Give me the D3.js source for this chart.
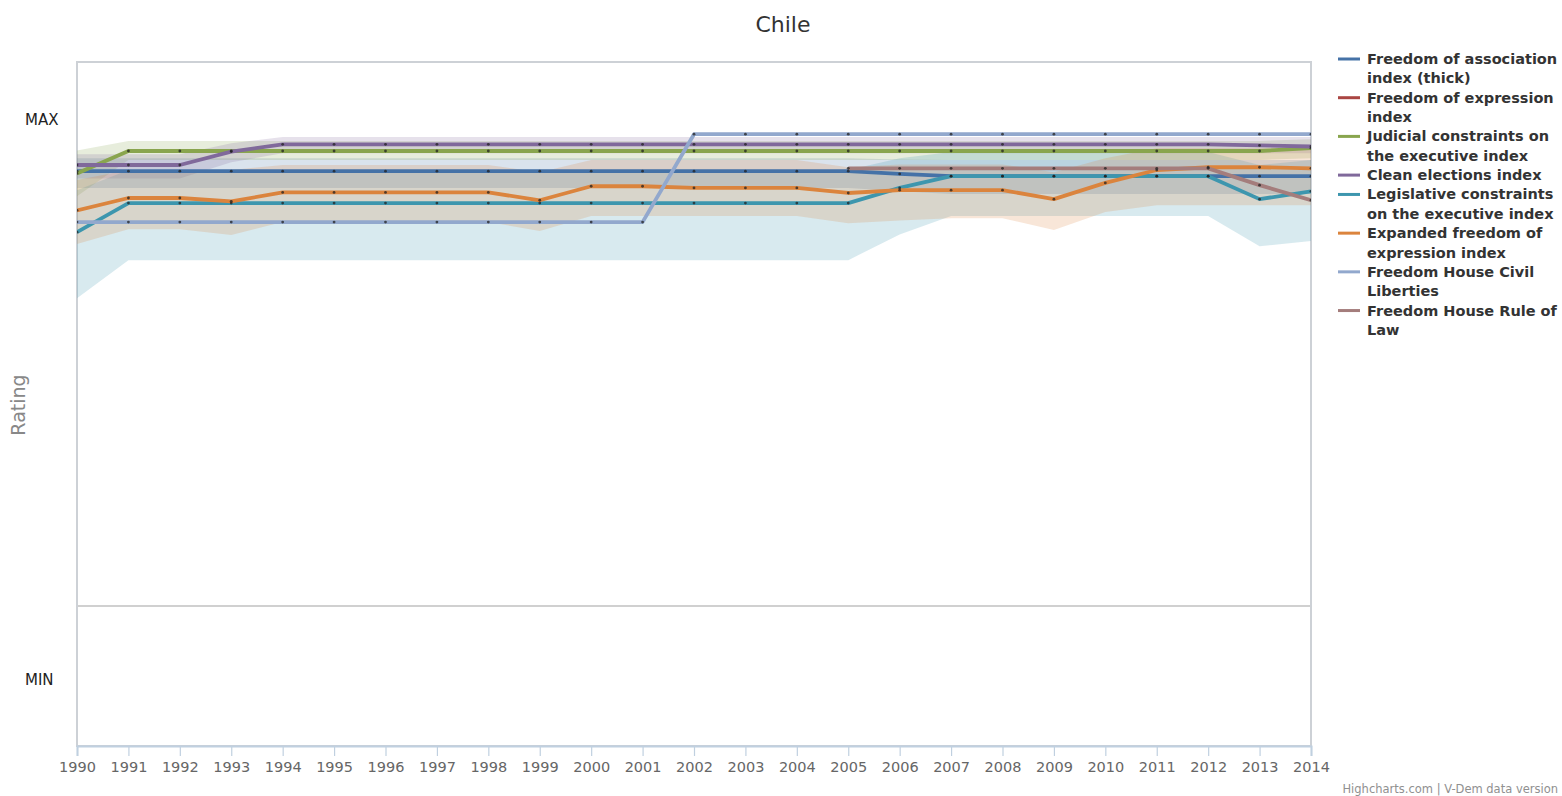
<!DOCTYPE html>
<html>
<head>
<meta charset="utf-8">
<script src="https://cdn.jsdelivr.net/npm/d3@7/dist/d3.min.js"></script>
<style>
  html, body { margin: 0; padding: 0; background: #fff; }
  svg { display: block; font-family: "DejaVu Sans", Verdana, sans-serif; }
</style>
</head>
<body>
<svg id="chart" width="1562" height="796"></svg>
<script>
// Years on the x axis
const years = [1990, 1991, 1992, 1993, 1994, 1995, 1996, 1997, 1998, 1999, 2000, 2001, 2002,
               2003, 2004, 2005, 2006, 2007, 2008, 2009, 2010, 2011, 2012, 2013, 2014];

// Normalised ratings (MIN = 0, MAX = 1)
const association = [0.909, 0.909, 0.909, 0.909, 0.909, 0.909, 0.909, 0.909, 0.909, 0.909, 0.909, 0.909, 0.909,
                     0.909, 0.909, 0.909, 0.904, 0.900, 0.900, 0.900, 0.900, 0.900, 0.900, 0.900, 0.900];
const expression = [null, null, null, null, null, null, null, null, null, null, null, null, null,
                    null, null, null, null, null, null, null, null, null, null, null, null];
const judicial = [0.905, 0.945, 0.945, 0.945, 0.945, 0.945, 0.945, 0.945, 0.945, 0.945, 0.945, 0.945, 0.945,
                  0.945, 0.945, 0.945, 0.945, 0.945, 0.945, 0.945, 0.945, 0.945, 0.945, 0.945, 0.950];
const cleanElections = [0.920, 0.920, 0.920, 0.944, 0.957, 0.957, 0.957, 0.957, 0.957, 0.957, 0.957, 0.957, 0.957,
                        0.957, 0.957, 0.957, 0.957, 0.957, 0.957, 0.957, 0.957, 0.957, 0.957, 0.955, 0.953];
const legislative = [0.800, 0.852, 0.852, 0.852, 0.852, 0.852, 0.852, 0.852, 0.852, 0.852, 0.852, 0.852, 0.852,
                     0.852, 0.852, 0.852, 0.879, 0.900, 0.900, 0.900, 0.900, 0.900, 0.900, 0.859, 0.873];
const expandedExpression = [0.839, 0.861, 0.861, 0.855, 0.871, 0.871, 0.871, 0.871, 0.871, 0.857, 0.882, 0.882, 0.879,
                            0.879, 0.879, 0.870, 0.875, 0.875, 0.875, 0.859, 0.888, 0.911, 0.916, 0.916, 0.914];
const fhCivilLiberties = [0.818, 0.818, 0.818, 0.818, 0.818, 0.818, 0.818, 0.818, 0.818, 0.818, 0.818, 0.818, 0.975,
                          0.975, 0.975, 0.975, 0.975, 0.975, 0.975, 0.975, 0.975, 0.975, 0.975, 0.975, 0.975];
const fhRuleOfLaw = [null, null, null, null, null, null, null, null, null, null, null, null, null,
                     null, null, 0.914, 0.914, 0.914, 0.914, 0.914, 0.914, 0.914, 0.914, 0.884, 0.857];

// Confidence bands (low / high) for the V-Dem indices
const associationLow = [0.879, 0.879, 0.879, 0.879, 0.879, 0.879, 0.879, 0.879, 0.879, 0.879, 0.879, 0.879, 0.879,
                        0.879, 0.879, 0.879, 0.873, 0.868, 0.868, 0.868, 0.868, 0.868, 0.868, 0.868, 0.868];
const associationHigh = [0.932, 0.932, 0.932, 0.932, 0.932, 0.932, 0.932, 0.932, 0.932, 0.932, 0.932, 0.932, 0.932,
                         0.932, 0.932, 0.932, 0.930, 0.929, 0.929, 0.929, 0.929, 0.929, 0.929, 0.929, 0.929];
const judicialLow = [0.864, 0.929, 0.929, 0.929, 0.929, 0.929, 0.929, 0.929, 0.929, 0.929, 0.929, 0.929, 0.929,
                     0.929, 0.929, 0.929, 0.929, 0.929, 0.929, 0.929, 0.929, 0.929, 0.929, 0.929, 0.932];
const judicialHigh = [0.946, 0.963, 0.963, 0.963, 0.963, 0.963, 0.963, 0.963, 0.963, 0.963, 0.963, 0.963, 0.963,
                      0.963, 0.963, 0.963, 0.963, 0.963, 0.963, 0.963, 0.963, 0.963, 0.963, 0.963, 0.966];
const cleanLow = [0.896, 0.896, 0.896, 0.925, 0.941, 0.941, 0.941, 0.941, 0.941, 0.941, 0.941, 0.941, 0.941,
                  0.941, 0.941, 0.941, 0.941, 0.941, 0.941, 0.941, 0.941, 0.941, 0.941, 0.941, 0.941];
const cleanHigh = [0.939, 0.939, 0.939, 0.959, 0.970, 0.970, 0.970, 0.970, 0.970, 0.970, 0.970, 0.970, 0.970,
                   0.970, 0.970, 0.970, 0.970, 0.970, 0.970, 0.970, 0.970, 0.970, 0.970, 0.970, 0.970];
const legislativeLow = [0.682, 0.750, 0.750, 0.750, 0.750, 0.750, 0.750, 0.750, 0.750, 0.750, 0.750, 0.750, 0.750,
                        0.750, 0.750, 0.750, 0.796, 0.829, 0.829, 0.829, 0.829, 0.829, 0.829, 0.775, 0.784];
const legislativeHigh = [0.875, 0.911, 0.911, 0.911, 0.911, 0.911, 0.911, 0.911, 0.911, 0.911, 0.911, 0.911, 0.911,
                         0.911, 0.911, 0.911, 0.932, 0.943, 0.943, 0.943, 0.943, 0.943, 0.943, 0.920, 0.929];
const expandedLow = [0.779, 0.805, 0.805, 0.795, 0.818, 0.818, 0.818, 0.818, 0.818, 0.802, 0.829, 0.829, 0.829,
                     0.829, 0.829, 0.816, 0.821, 0.825, 0.825, 0.804, 0.836, 0.848, 0.848, 0.848, 0.848];
const expandedHigh = [0.893, 0.911, 0.911, 0.911, 0.920, 0.920, 0.920, 0.920, 0.920, 0.907, 0.929, 0.929, 0.929,
                      0.929, 0.929, 0.916, 0.921, 0.921, 0.921, 0.907, 0.932, 0.950, 0.950, 0.950, 0.950];

// Y axis tick labels and the single grid line
const yTickValues = [1, 0];
const yTickLabels = ["MAX", "MIN"];
const gridLineValue = 0.132;

// Series definitions
const seriesNames = [
  ["Freedom of association", "index (thick)"],
  ["Freedom of expression", "index"],
  ["Judicial constraints on", "the executive index"],
  ["Clean elections index"],
  ["Legislative constraints", "on the executive index"],
  ["Expanded freedom of", "expression index"],
  ["Freedom House Civil", "Liberties"],
  ["Freedom House Rule of", "Law"]
];
const seriesColors = ["#4572A7", "#AA4643", "#89A54E", "#80699B", "#3D96AE", "#DB843D", "#92A8CD", "#A47D7C"];
const seriesValues = [association, expression, judicial, cleanElections, legislative,
                      expandedExpression, fhCivilLiberties, fhRuleOfLaw];
const bandLows  = [associationLow, null, judicialLow, cleanLow, legislativeLow, expandedLow, null, null];
const bandHighs = [associationHigh, null, judicialHigh, cleanHigh, legislativeHigh, expandedHigh, null, null];

// Layout
const plot = { left: 77, right: 1311, top: 62, bottom: 746 };

const svg = d3.select("#chart");
svg.append("rect").attr("width", 1562).attr("height", 796).attr("fill", "#fff");

const x = d3.scaleLinear().domain([years[0], years[years.length - 1]]).range([plot.left, plot.right]);
const y = d3.scaleLinear().domain([-0.118, 1.104]).range([plot.bottom, plot.top]);

svg.append("defs").append("clipPath").attr("id", "plotClip")
  .append("rect")
  .attr("x", plot.left).attr("y", plot.top)
  .attr("width", plot.right - plot.left).attr("height", plot.bottom - plot.top);

// Title
svg.append("text")
  .attr("x", 783).attr("y", 32)
  .attr("text-anchor", "middle")
  .attr("font-size", 22)
  .attr("fill", "#333")
  .text("Chile");

// Grid line
svg.append("line")
  .attr("x1", plot.left).attr("x2", plot.right)
  .attr("y1", y(gridLineValue)).attr("y2", y(gridLineValue))
  .attr("stroke", "#d0d0d0").attr("stroke-width", 2);

// Plot border
svg.append("rect")
  .attr("x", plot.left).attr("y", plot.top)
  .attr("width", plot.right - plot.left).attr("height", plot.bottom - plot.top)
  .attr("fill", "none").attr("stroke", "#cdd1d6").attr("stroke-width", 2);

// Y axis labels
svg.append("g").selectAll("text")
  .data(yTickValues)
  .join("text")
  .attr("x", 25)
  .attr("y", d => y(d) + 5)
  .attr("font-size", 15)
  .attr("fill", "#222")
  .text((d, i) => yTickLabels[i]);

svg.append("text")
  .attr("transform", `translate(25,${(plot.top + plot.bottom) / 2 + 1}) rotate(-90)`)
  .attr("text-anchor", "middle")
  .attr("font-size", 19)
  .attr("fill", "#888")
  .text("Rating");

// X axis
const xAxis = d3.axisBottom(x)
  .tickValues(years)
  .tickFormat(d3.format("d"))
  .tickSize(10)
  .tickPadding(6);
const xg = svg.append("g")
  .attr("transform", `translate(0,${plot.bottom})`)
  .call(xAxis);
xg.select(".domain").attr("stroke", "#c0d0e0").attr("stroke-width", 2);
xg.selectAll(".tick line").attr("stroke", "#c0d0e0").attr("stroke-width", 1.2);
xg.selectAll(".tick text")
  .attr("font-family", "DejaVu Sans, sans-serif")
  .attr("font-size", 14.5)
  .attr("fill", "#666");

// Bands and lines
const plotG = svg.append("g").attr("clip-path", "url(#plotClip)");

const area = d3.area()
  .defined(d => d.low != null && d.high != null)
  .x(d => x(d.year))
  .y0(d => y(d.low))
  .y1(d => y(d.high));

seriesValues.forEach((vals, i) => {
  if (!bandLows[i]) return;
  const pts = years.map((yr, j) => ({ year: yr, low: bandLows[i][j], high: bandHighs[i][j] }));
  plotG.append("path")
    .datum(pts)
    .attr("d", area)
    .attr("fill", seriesColors[i])
    .attr("fill-opacity", 0.2);
});

const line = d3.line()
  .defined(d => d.value != null)
  .x(d => x(d.year))
  .y(d => y(d.value));

seriesValues.forEach((vals, i) => {
  const pts = years.map((yr, j) => ({ year: yr, value: vals[j] }));
  plotG.append("path")
    .datum(pts)
    .attr("d", line)
    .attr("fill", "none")
    .attr("stroke", seriesColors[i])
    .attr("stroke-width", 3.8)
    .attr("stroke-linejoin", "round");
});

seriesValues.forEach((vals, i) => {
  const pts = years.map((yr, j) => ({ year: yr, value: vals[j] })).filter(d => d.value != null);
  plotG.append("g").selectAll("circle")
    .data(pts)
    .join("circle")
    .attr("cx", d => x(d.year))
    .attr("cy", d => y(d.value))
    .attr("r", 1.4)
    .attr("fill", "#222")
    .attr("fill-opacity", 0.75);
});

// Legend
const legend = svg.append("g");
const lineHeight = 19.35;
let ly = 59;
seriesNames.forEach((lines, i) => {
  const item = legend.append("g");
  item.append("line")
    .attr("x1", 1338).attr("x2", 1360)
    .attr("y1", ly).attr("y2", ly)
    .attr("stroke", seriesColors[i]).attr("stroke-width", 3);
  const t = item.append("text")
    .attr("x", 1367).attr("y", ly + 5)
    .attr("font-size", 14.5)
    .attr("font-weight", "bold")
    .attr("fill", "#333");
  lines.forEach((ln, k) => {
    t.append("tspan")
      .attr("x", 1367)
      .attr("dy", k === 0 ? 0 : lineHeight)
      .text(ln);
  });
  ly += lines.length * lineHeight;
});

// Credits
svg.append("text")
  .attr("x", 1558).attr("y", 793)
  .attr("text-anchor", "end")
  .attr("font-size", 11.5)
  .attr("fill", "#909090")
  .text("Highcharts.com | V-Dem data version");
</script>
</body>
</html>
